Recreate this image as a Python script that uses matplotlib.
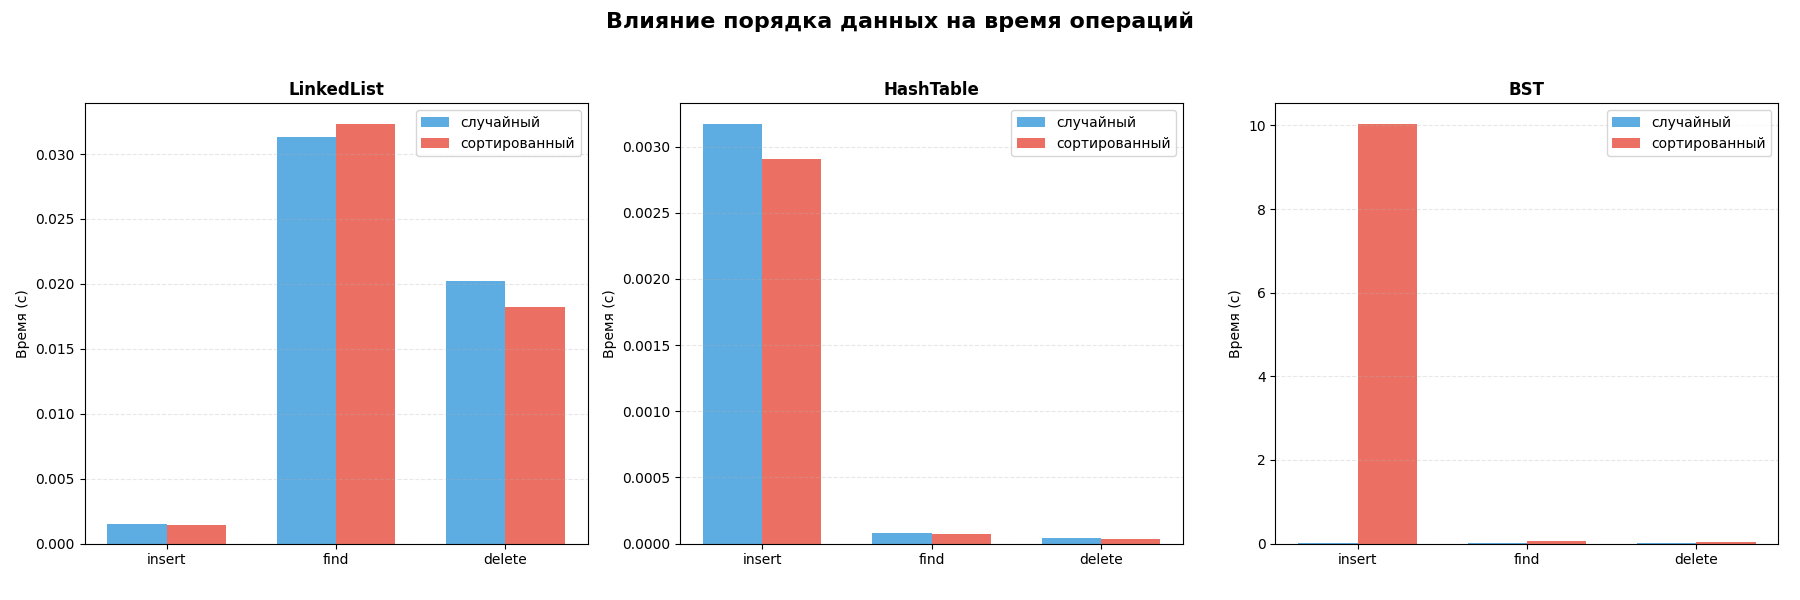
import numpy as np
import matplotlib
matplotlib.use("Agg")
import matplotlib.pyplot as plt

operations = ["insert", "find", "delete"]
structures = ["LinkedList", "HashTable", "BST"]
random_times = [
    [0.0015, 0.0313, 0.0202],
    [0.00317, 0.00008, 0.00004],
    [0.02, 0.008, 0.006],
]
sorted_times = [
    [0.0014, 0.0323, 0.0182],
    [0.00291, 0.00007, 0.000035],
    [10.03, 0.07, 0.05],
]

fig, axes = plt.subplots(1, 3, figsize=(18, 6), dpi=100)
fig.suptitle("Влияние порядка данных на время операций", fontsize=16, fontweight="bold", y=0.98)
x = np.arange(len(operations))
w = 0.35
for ax, name, r, s in zip(axes, structures, random_times, sorted_times):
    ax.bar(x - w / 2, r, w, label="случайный", color="#3498db", alpha=0.8)
    ax.bar(x + w / 2, s, w, label="сортированный", color="#e74c3c", alpha=0.8)
    ax.set_title(name, fontsize=12, fontweight="bold")
    ax.set_ylabel("Время (с)")
    ax.set_xticks(x)
    ax.set_xticklabels(operations)
    ax.legend()
    ax.grid(axis="y", alpha=0.3, linestyle="--")

fig.subplots_adjust(left=0.047, right=0.988, top=0.828, bottom=0.094, wspace=0.184)
fig.savefig("out.png")
